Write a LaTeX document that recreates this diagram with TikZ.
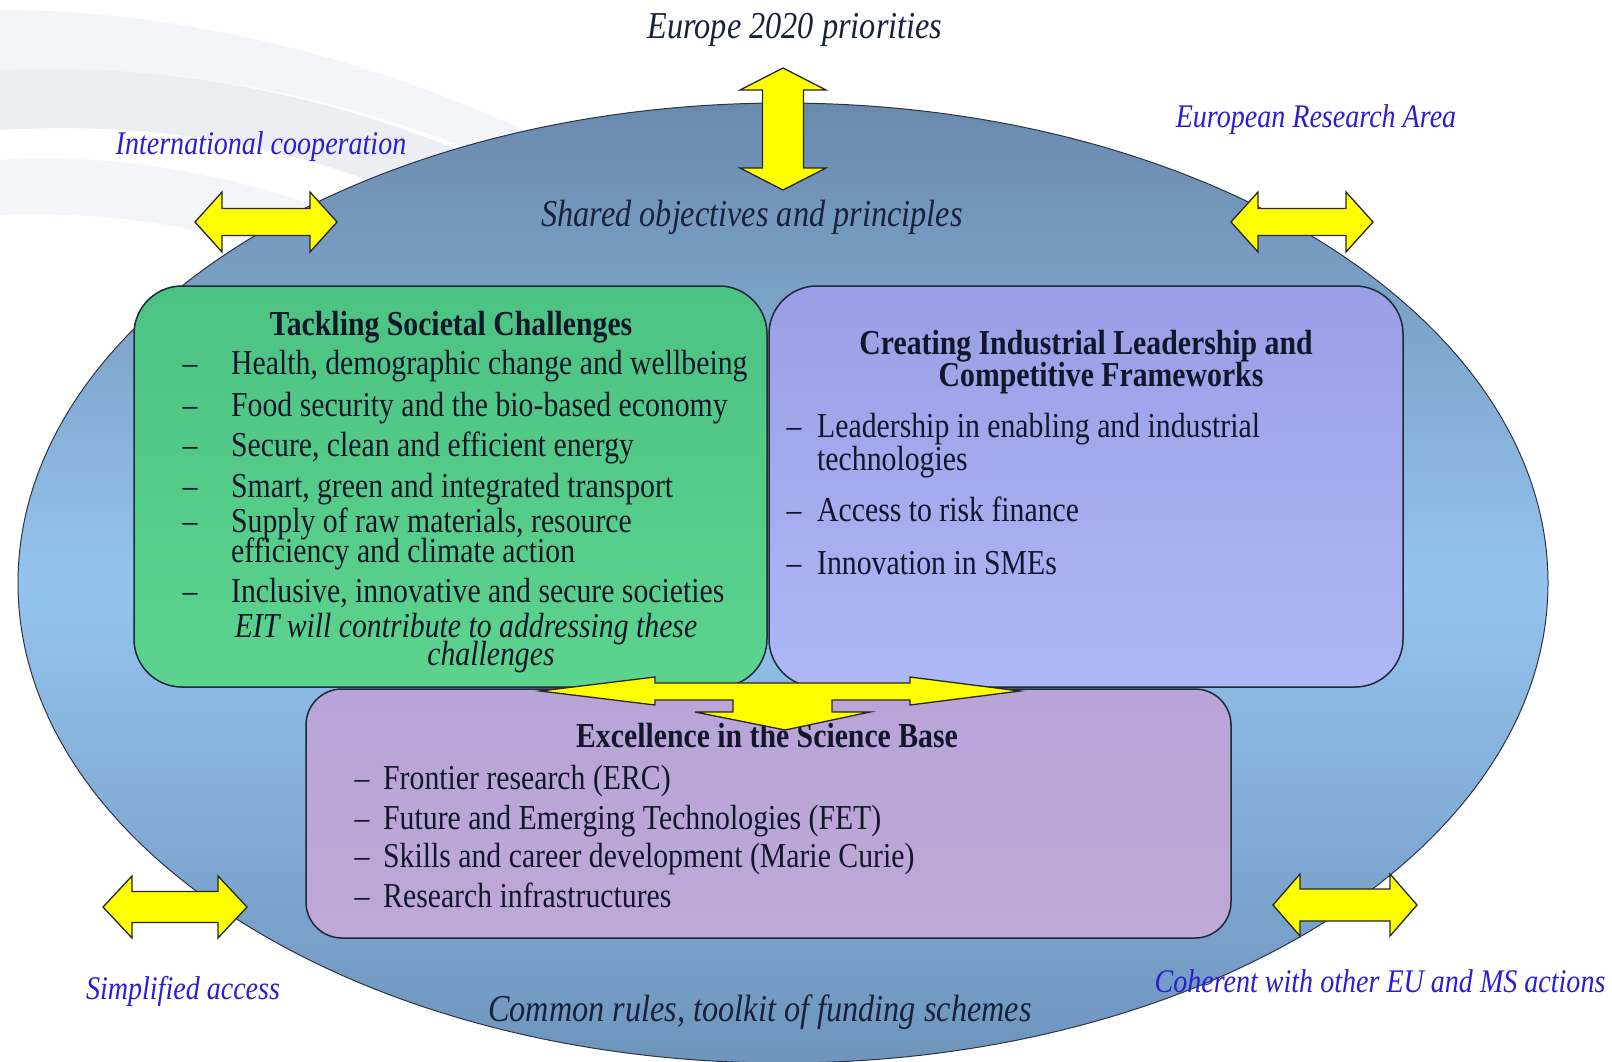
\documentclass[tikz,border=0pt]{standalone}
\usepackage{fontspec}
\setmainfont{Liberation Serif}[FakeStretch=0.85]
\usetikzlibrary{shapes.geometric}
\definecolor{txt}{HTML}{12162A}
\definecolor{ltxt}{HTML}{18223C}
\definecolor{lbl}{HTML}{2A1ED2}
\definecolor{ellTop}{HTML}{6A89AD}
\definecolor{ellMid}{HTML}{94C4EE}
\definecolor{ellBot}{HTML}{6E94BC}
\definecolor{ellLine}{HTML}{2C3444}
\definecolor{grTop}{HTML}{4CC283}
\definecolor{grBot}{HTML}{5CD48E}
\definecolor{rbTop}{HTML}{9A9EE6}
\definecolor{rbBot}{HTML}{AEB8F6}
\definecolor{bbTop}{HTML}{B9A4D8}
\definecolor{bbBot}{HTML}{BFA8D6}
\definecolor{boxLine}{HTML}{1E2838}
\definecolor{yel}{HTML}{FFFF00}
\definecolor{bgA}{HTML}{ECEEF4}
\definecolor{bgB}{HTML}{F4F5F9}
\newcommand\hdblarrow[6]{%
 \draw[yarrow] ({#1-#3},#2) -- ({#1-#3+#4},{#2-#5}) -- ({#1-#3+#4},{#2-#6}) -- ({#1+#3-#4},{#2-#6}) -- ({#1+#3-#4},{#2-#5}) -- ({#1+#3},#2) -- ({#1+#3-#4},{#2+#5}) -- ({#1+#3-#4},{#2+#6}) -- ({#1-#3+#4},{#2+#6}) -- ({#1-#3+#4},{#2+#5}) -- cycle;}
\newcommand\vdblarrow[6]{%
 \draw[yarrow] (#1,{#2-#3}) -- ({#1+#5},{#2-#3+#4}) -- ({#1+#6},{#2-#3+#4}) -- ({#1+#6},{#2+#3-#4}) -- ({#1+#5},{#2+#3-#4}) -- (#1,{#2+#3}) -- ({#1-#5},{#2+#3-#4}) -- ({#1-#6},{#2+#3-#4}) -- ({#1-#6},{#2-#3+#4}) -- ({#1-#5},{#2-#3+#4}) -- cycle;}
\tikzset{
 itemtext/.style={anchor=base west, font=\fontsize{35}{41}\selectfont, text=txt, inner sep=0pt},
 dashmark/.style={anchor=base, font=\fontsize{35}{41}\selectfont, text=txt, inner sep=0pt},
 titletext/.style={anchor=base, font=\fontsize{35}{41}\selectfont\bfseries, text=txt, inner sep=0pt},
 eittext/.style={anchor=base, font=\fontsize{35}{41}\selectfont\itshape, text=txt, inner sep=0pt},
 elbl/.style={anchor=base, font=\fontsize{38}{44}\selectfont\itshape, text=ltxt, inner sep=0pt},
 blbl/.style={anchor=base, font=\fontsize{33}{38}\selectfont\itshape, text=lbl, inner sep=0pt},
 yarrow/.style={fill=yel, draw=black!85, line width=1.3pt, line join=miter},
 boxbase/.style={draw=boxLine, line width=1.5pt, inner sep=0pt, shading=axis},
}
\begin{document}
\begin{tikzpicture}[x=1pt,y=-1pt]
\useasboundingbox (0,0) rectangle (1612,1061);
\fill[white] (0,0) rectangle (1612,1061);
% faint background swooshes
\fill[bgB] (0,10) .. controls (220,10) and (450,80) .. (640,190) -- (600,210) .. controls (420,110) and (200,60) .. (0,70) -- cycle;
\fill[bgA] (0,70) .. controls (200,60) and (400,110) .. (560,200) -- (480,230) .. controls (330,150) and (170,120) .. (0,130) -- cycle;
\fill[bgB] (0,160) .. controls (150,150) and (300,190) .. (420,250) -- (360,290) .. controls (250,230) and (120,210) .. (0,215) -- cycle;
% main ellipse
\node[ellipse, draw=ellLine, line width=1pt, minimum width=1530pt, minimum height=960pt, inner sep=0pt,
      top color=ellTop, bottom color=ellBot, middle color=ellMid] (ell) at (783,583) {};
% boxes
\node[boxbase, rounded corners=48pt, minimum width=633pt, minimum height=401pt, top color=grTop, bottom color=grBot] (green) at (450.5,486.5) {};
\node[boxbase, rounded corners=48pt, minimum width=634pt, minimum height=401pt, top color=rbTop, bottom color=rbBot] (indus) at (1086,486.5) {};
\node[boxbase, rounded corners=36pt, minimum width=925pt, minimum height=249pt, top color=bbTop, bottom color=bbBot] (sci) at (768.5,813.5) {};
% outer labels
\node[elbl] (eu2020) at (795,38) {Europe 2020 priorities};
\node[elbl] (shared) at (752,226) {Shared objectives and principles};
\node[elbl] (common) at (760,1021) {Common rules, toolkit of funding schemes};
\node[blbl] (intl) at (261,154) {International cooperation};
\node[blbl] (era) at (1316,127) {European Research Area};
\node[blbl] (simpl) at (183,999) {Simplified access};
\node[blbl] (coher) at (1380,992) {Coherent with other EU and MS actions};
% green box text
\node[titletext] (gt) at (451,335) {Tackling Societal Challenges};
\node[dashmark] (gd1) at (190,374) {–};
\node[itemtext] (g1) at (231,374) {Health, demographic change and wellbeing};
\node[dashmark] (gd2) at (190,416) {–};
\node[itemtext] (g2) at (231,416) {Food security and the bio-based economy};
\node[dashmark] (gd3) at (190,456) {–};
\node[itemtext] (g3) at (231,456) {Secure, clean and efficient energy};
\node[dashmark] (gd4) at (190,497) {–};
\node[itemtext] (g4) at (231,497) {Smart, green and integrated transport};
\node[dashmark] (gd5) at (190,532) {–};
\node[itemtext] (g5) at (231,532) {Supply of raw materials, resource};
\node[itemtext] (g5b) at (231,562) {efficiency and climate action};
\node[dashmark] (gd6) at (190,602) {–};
\node[itemtext] (g6) at (231,602) {Inclusive, innovative and secure societies};
\node[eittext] (eit1) at (466,637) {EIT will contribute to addressing these};
\node[eittext] (eit2) at (491,665) {challenges};
% industrial box text
\node[titletext] (it1) at (1086,354) {Creating Industrial Leadership and};
\node[titletext] (it2) at (1101,386) {Competitive Frameworks};
\node[dashmark] (id1) at (794,437) {–};
\node[itemtext] (i1) at (817,437) {Leadership in enabling and industrial};
\node[itemtext] (i1b) at (817,470) {technologies};
\node[dashmark] (id2) at (794,521) {–};
\node[itemtext] (i2) at (817,521) {Access to risk finance};
\node[dashmark] (id3) at (794,574) {–};
\node[itemtext] (i3) at (817,574) {Innovation in SMEs};
% science box text
\node[titletext] (st) at (767,747) {Excellence in the Science Base};
\node[dashmark] (sd1) at (362,789) {–};
\node[itemtext] (s1) at (383,789) {Frontier research (ERC)};
\node[dashmark] (sd2) at (362,829) {–};
\node[itemtext] (s2) at (383,829) {Future and Emerging Technologies (FET)};
\node[dashmark] (sd3) at (362,867) {–};
\node[itemtext] (s3) at (383,867) {Skills and career development (Marie Curie)};
\node[dashmark] (sd4) at (362,907) {–};
\node[itemtext] (s4) at (383,907) {Research infrastructures};
% yellow arrows
\vdblarrow{783}{129}{61}{22}{43}{20.5}
\hdblarrow{266}{222}{71}{27}{30}{13.5}
\hdblarrow{1302}{222}{71}{27}{30}{13.5}
\hdblarrow{175}{907}{72}{29}{31}{15.5}
\hdblarrow{1345}{905}{72}{27}{31}{16}
\draw[yarrow] (540,691) -- (655,677) -- (655,683) -- (910,683) -- (910,677) -- (1020,691) -- (910,705) -- (910,700) -- (832,700) -- (832,712) -- (870,712) -- (785,730) -- (695,712) -- (733,712) -- (733,700) -- (655,700) -- (655,705) -- cycle;
\end{tikzpicture}
\end{document}
